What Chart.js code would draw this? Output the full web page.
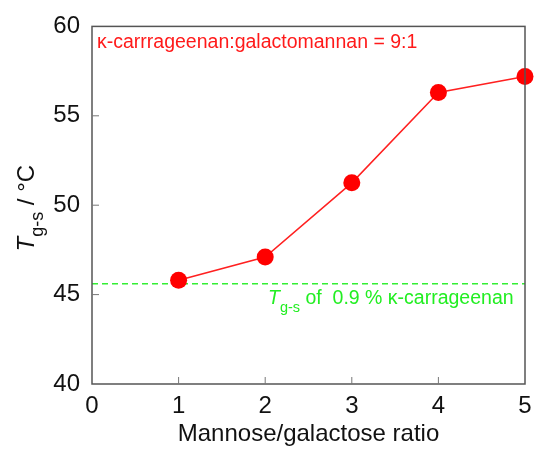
<!DOCTYPE html>
<html>
<head>
<meta charset="utf-8">
<script src="https://cdn.jsdelivr.net/npm/chart.js@4.4.1/dist/chart.umd.min.js"></script>
<style>
  html, body { margin: 0; padding: 0; background: #fff; overflow: hidden; }
  #wrap { width: 534px; height: 450px; }
</style>
</head>
<body>
<div id="wrap"><canvas id="chartTgs"></canvas></div>
<script>
// data
const ratios = [1, 2, 3, 4, 5];
const tgsMixture = [45.8, 47.1, 51.25, 56.3, 57.2];
const tgsCarrageenan = 45.6; // 0.9 % kappa-carrageenan alone
const xRange = [0, 5];
const yRange = [40, 60];

const fontName = "'Liberation Sans', Arial, Helvetica, sans-serif";

// frame, inward ticks, annotations, y title with subscript
const framePlugin = {
  id: "frame",
  afterDraw: function (chart) {
    const ctx = chart.ctx;
    const a = chart.chartArea;
    const xs = chart.scales.x;
    const ys = chart.scales.y;
    ctx.save();
    ctx.strokeStyle = "#555";
    ctx.lineWidth = 1.5;
    ctx.strokeRect(a.left, a.top, a.right - a.left, a.bottom - a.top);

    ctx.lineWidth = 1;
    ctx.strokeStyle = "#777";
    xs.ticks.forEach(function (t) {
      if (t.value <= xRange[0] || t.value >= xRange[1]) return;
      var px = xs.getPixelForValue(t.value);
      ctx.beginPath();
      ctx.moveTo(px, a.bottom);
      ctx.lineTo(px, a.bottom - 7);
      ctx.stroke();
    });
    ys.ticks.forEach(function (t) {
      if (t.value <= yRange[0] || t.value >= yRange[1]) return;
      var py = ys.getPixelForValue(t.value);
      ctx.beginPath();
      ctx.moveTo(a.left, py);
      ctx.lineTo(a.left + 7, py);
      ctx.stroke();
    });

    // red label
    ctx.fillStyle = "#ff1a1a";
    ctx.font = "19.5px " + fontName;
    ctx.textAlign = "left";
    ctx.textBaseline = "alphabetic";
    ctx.fillText("\u03ba-carrrageenan:galactomannan = 9:1", a.left + 5, a.top + 22);

    // green label under the dashed line
    var gy = ys.getPixelForValue(tgsCarrageenan) + 20;
    var gx = a.left + 176;
    ctx.fillStyle = "#22ee22";
    ctx.font = "italic 19.5px " + fontName;
    ctx.fillText("T", gx, gy);
    gx += ctx.measureText("T").width;
    ctx.font = "14.5px " + fontName;
    ctx.fillText("g-s", gx, gy + 8);
    gx += ctx.measureText("g-s").width;
    ctx.font = "19.5px " + fontName;
    ctx.fillText(" of  0.9 % \u03ba-carrageenan", gx, gy);

    // y axis title
    ctx.translate(34, (a.top + a.bottom) / 2 + 3);
    ctx.rotate(-Math.PI / 2);
    ctx.fillStyle = "#111";
    var parts = [
      { t: "T", f: "italic 24px ", dy: 0 },
      { t: "g-s", f: "18px ", dy: 9 },
      { t: " / \u00b0C", f: "24px ", dy: 0 }
    ];
    var w = 0;
    parts.forEach(function (p) { ctx.font = p.f + fontName; w += ctx.measureText(p.t).width; });
    var tx = -w / 2;
    parts.forEach(function (p) {
      ctx.font = p.f + fontName;
      ctx.fillText(p.t, tx, p.dy);
      tx += ctx.measureText(p.t).width;
    });
    ctx.restore();
  }
};

new Chart(document.getElementById("chartTgs"), {
  type: "line",
  data: {
    datasets: [
      {
        label: "mixture",
        data: ratios.map(function (r, i) { return { x: r, y: tgsMixture[i] }; }),
        borderColor: "#ff2020",
        backgroundColor: "#ff0000",
        borderWidth: 1.5,
        pointRadius: 8.5,
        pointHoverRadius: 8.5,
        pointBorderWidth: 0,
        clip: false
      },
      {
        label: "carrageenan",
        data: [{ x: xRange[0], y: tgsCarrageenan }, { x: xRange[1], y: tgsCarrageenan }],
        borderColor: "#33ee33",
        borderWidth: 1.5,
        borderDash: [6, 4],
        pointRadius: 0
      }
    ]
  },
  options: {
    responsive: true,
    maintainAspectRatio: false,
    animation: false,
    layout: { padding: { left: 0, right: 9, top: 23, bottom: 0 } },
    plugins: { legend: { display: false }, tooltip: { enabled: false } },
    scales: {
      x: {
        type: "linear",
        min: xRange[0],
        max: xRange[1],
        grid: { display: false, drawTicks: false },
        border: { display: false },
        ticks: { stepSize: 1, padding: 8, color: "#111", font: { family: fontName, size: 24 } },
        title: {
          display: true,
          text: "Mannose/galactose ratio",
          color: "#111",
          font: { family: fontName, size: 24 },
          padding: { top: 0, bottom: 1 }
        },
        afterFit: function (s) {
          s.height = 66;
          s.paddingLeft = 0;
          s.paddingRight = 0;
        }
      },
      y: {
        min: yRange[0],
        max: yRange[1],
        grid: { display: false, drawTicks: false },
        border: { display: false },
        ticks: { stepSize: 5, padding: 12, color: "#111", font: { family: fontName, size: 24 } },
        afterFit: function (s) { s.width = 92; }
      }
    }
  },
  plugins: [framePlugin]
});
</script>
</body>
</html>
